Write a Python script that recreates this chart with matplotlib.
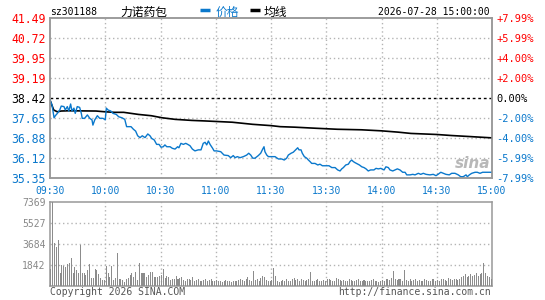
import numpy as np
import matplotlib.pyplot as plt
from matplotlib.lines import Line2D

plt.rcParams['font.family'] = ['DejaVu Sans Mono', 'Noto Sans CJK SC']

# 基本情報
code = "sz301188"
name = "力诺药包"
stamp = "2026-07-28 15:00:00"
prev_close = 38.42

price_ticks = [35.35, 36.12, 36.88, 37.65, 38.42, 39.19, 39.95, 40.72, 41.49]
pct_labels = ["-7.99%", "-5.99%", "-4.00%", "-2.00%", "0.00%",
              "+2.00%", "+4.00%", "+5.99%", "+7.99%"]
time_ticks = [0, 30, 60, 90, 120, 150, 180, 210, 240]
time_labels = ["09:30", "10:00", "10:30", "11:00", "11:30",
               "13:30", "14:00", "14:30", "15:00"]
vol_ticks = [1842, 3684, 5527, 7369]

# 分時価格 (分, 価格)
price_min = [0, 1.1, 2.2, 2.9, 4.0, 5.3, 6.1, 7.6, 8.3, 9.4, 10.2, 11.2, 11.9, 13.0, 13.7,
             14.8, 16.1, 17.0, 17.5, 18.8, 20.3, 21.6, 22.8, 23.3, 24.3, 25.7, 27.0, 28.8,
             30.0, 30.6, 31.5, 33.0, 34.2, 36.0, 37.3, 39.1, 40.6, 41.6, 44.0, 45.3, 46.5,
             47.6, 48.9, 50.1, 51.6, 53.1, 54.3, 55.2, 56.6, 57.9, 59.2, 60.3, 61.5, 62.4,
             63.4, 65.2, 66.4, 67.9, 69.3, 70.0, 71.1, 72.4, 73.7, 74.8, 76.0, 77.3, 78.7,
             80.5, 82.0, 83.2, 84.2, 85.1, 86.0, 86.9, 88.3, 89.1, 90.5, 92.7, 94.5, 96.8,
             98.1, 99.5, 100.5, 101.7, 103.2, 105.0, 106.8, 107.9, 109.0, 110.1, 111.3,
             113.1, 114.4, 115.5, 116.2, 116.7, 117.7, 118.6, 120.4, 122.2, 124.0, 125.8,
             127.2, 128.5, 129.4, 130.9, 132.1, 133.4, 134.5, 135.2, 136.3, 137.0, 138.1,
             139.4, 140.3, 141.2, 142.1, 143.9, 145.4, 146.6, 147.9, 151.5, 153.0, 154.8,
             156.2, 157.5, 158.4, 159.3, 160.6, 162.0, 162.9, 163.8, 164.7, 165.6, 168.0,
             169.3, 170.5, 171.6, 172.8, 174.1, 175.9, 177.0, 178.3, 179.6, 181.4, 182.4,
             183.7, 184.6, 186.1, 187.3, 188.6, 190.0, 191.5, 192.8, 193.7, 195.5, 197.0,
             198.2, 200.0, 201.3, 202.7, 204.2, 206.3, 208.1, 209.6, 210.7, 212.2, 213.6,
             215.0, 216.8, 218.1, 219.9, 221.7, 223.0, 224.4, 225.9, 226.6, 227.7, 229.0,
             230.8, 232.0, 233.5, 234.9, 237.1, 240]
price = [38.34, 38.15, 37.66, 37.74, 37.83, 37.96, 38.11, 38.09, 37.96, 38.09, 37.92, 38.19,
         37.92, 38.03, 37.83, 38.09, 38.06, 37.83, 37.64, 37.64, 37.77, 37.64, 37.58, 37.38,
         37.58, 37.74, 37.64, 37.64, 37.58, 38.03, 37.96, 37.92, 37.83, 37.79, 37.70, 37.66,
         37.60, 37.32, 37.32, 37.22, 37.15, 36.97, 36.90, 36.97, 36.90, 37.04, 36.97, 36.87,
         36.81, 36.64, 36.64, 36.53, 36.55, 36.62, 36.55, 36.55, 36.49, 36.46, 36.55, 36.51,
         36.68, 36.64, 36.68, 36.64, 36.59, 36.46, 36.39, 36.43, 36.43, 36.68, 36.72, 36.62,
         36.77, 36.64, 36.49, 36.39, 36.39, 36.36, 36.23, 36.21, 36.13, 36.21, 36.13, 36.17,
         36.13, 36.17, 36.23, 36.30, 36.23, 36.11, 36.11, 36.21, 36.30, 36.46, 36.55, 36.36,
         36.23, 36.17, 36.17, 36.17, 36.08, 36.08, 36.04, 36.11, 36.23, 36.30, 36.34, 36.43,
         36.51, 36.43, 36.43, 36.30, 36.17, 36.11, 36.04, 35.98, 35.91, 35.91, 35.85, 35.88,
         35.82, 35.82, 35.75, 35.75, 35.66, 35.62, 35.70, 35.75, 35.85, 35.88, 35.98, 36.04,
         35.98, 35.94, 35.85, 35.78, 35.75, 35.70, 35.62, 35.66, 35.66, 35.72, 35.70, 35.72,
         35.66, 35.78, 35.75, 35.66, 35.62, 35.66, 35.70, 35.66, 35.57, 35.57, 35.47, 35.47,
         35.49, 35.47, 35.53, 35.49, 35.53, 35.49, 35.47, 35.49, 35.44, 35.49, 35.57, 35.53,
         35.49, 35.47, 35.53, 35.53, 35.47, 35.40, 35.40, 35.47, 35.40, 35.47, 35.53, 35.57,
         35.57, 35.53, 35.57, 35.57, 35.57]

# 均価線
avg_min = [0, 2, 4, 6, 10, 25, 30, 35, 40, 48, 55, 61, 68, 77, 84, 99, 110, 120, 125,
           133, 144, 156, 169, 180, 189, 196, 210, 218, 228, 240]
avg = [38.34, 37.96, 37.89, 37.92, 37.93, 37.92, 37.89, 37.87, 37.87, 37.79, 37.74, 37.66,
       37.60, 37.56, 37.54, 37.49, 37.41, 37.36, 37.32, 37.30, 37.26, 37.22, 37.20, 37.16,
       37.11, 37.06, 37.02, 36.98, 36.94, 36.89]

# 出来高 (1分ごと)
volume = [1490, 7369, 3800, 3390, 4035, 1110, 1840, 1750, 1690, 1930,
          1990, 2430, 1110, 1690, 1400, 1170, 3600, 1170, 1170, 965,
          1400, 1930, 670, 670, 1460, 1400, 1050, 670, 530, 530,
          1750, 1110, 820, 1750, 530, 670, 2920, 585, 585, 530,
          380, 585, 670, 965, 1170, 760, 1260, 530, 1990, 1170,
          1170, 1170, 760, 965, 1260, 1260, 820, 760, 760, 880,
          965, 1520, 700, 880, 760, 530, 600, 650, 880, 585,
          700, 760, 530, 470, 585, 650, 530, 760, 470, 530,
          585, 470, 410, 530, 650, 470, 530, 585, 410, 470,
          530, 410, 470, 350, 410, 530, 470, 410, 350, 470,
          410, 470, 530, 650, 530, 470, 585, 760, 530, 470,
          1340, 530, 585, 410, 700, 880, 760, 530, 470, 410,
          530, 1550, 880, 470, 350, 410, 530, 470, 585, 410,
          470, 650, 700, 530, 585, 470, 650, 530, 470, 530,
          585, 1260, 470, 410, 530, 585, 470, 410, 530, 470,
          585, 650, 530, 410, 470, 700, 585, 530, 470, 530,
          410, 470, 585, 530, 470, 410, 530, 650, 410, 470,
          530, 410, 470, 410, 530, 585, 470, 410, 350, 470,
          530, 470, 585, 650, 530, 700, 1340, 585, 530, 650,
          585, 470, 1400, 530, 470, 585, 410, 530, 650, 470,
          530, 410, 470, 585, 530, 410, 470, 650, 585, 470,
          530, 470, 585, 650, 530, 470, 700, 585, 530, 650,
          585, 530, 650, 760, 880, 1050, 760, 880, 1050, 880,
          965, 1110, 880, 1050, 1170, 2050, 1110, 880, 760, 650]

blue = '#0a78cc'
red = '#ff0000'
frame = '#999999'
gridc = '#b4b4b4'

fig = plt.figure(figsize=(5.45, 3.0), dpi=100)
ax = fig.add_axes([50/545, 122/300, 442/545, 160/300])
axv = fig.add_axes([50/545, 14/300, 442/545, 84/300])

# 価格チャート
ax.set_xlim(0, 240)
ax.set_ylim(price_ticks[0], price_ticks[-1])
for y in price_ticks[1:-1]:
    if y == prev_close:
        ax.axhline(y, color='black', lw=1, ls=(0, (2, 2)), zorder=1)
    else:
        ax.axhline(y, color=gridc, lw=1, ls=(0, (1, 2)), zorder=1)
for x in time_ticks[1:-1]:
    ax.axvline(x, color=gridc, lw=1, ls=(0, (1, 2)), zorder=1)

ax.plot(avg_min, avg, color='black', lw=1.2, zorder=3)
ax.plot(price_min, price, color=blue, lw=1.0, zorder=4)

ax.set_yticks(price_ticks)
ax.set_yticklabels([f"{v:.2f}" for v in price_ticks], fontsize=8.3)
for lab, v in zip(ax.get_yticklabels(), price_ticks):
    lab.set_color('black' if v == prev_close else (red if v > prev_close else blue))
ax.set_xticks(time_ticks)
ax.set_xticklabels(time_labels, fontsize=7, color=blue)
ax.tick_params(axis='both', length=0)
ax.tick_params(axis='y', pad=3)
ax.tick_params(axis='x', pad=6)

ax2 = ax.twinx()
ax2.set_ylim(price_ticks[0], price_ticks[-1])
ax2.set_yticks(price_ticks)
ax2.set_yticklabels(pct_labels, fontsize=7.5)
for lab, v in zip(ax2.get_yticklabels(), price_ticks):
    lab.set_color('black' if v == prev_close else (red if v > prev_close else blue))
ax2.tick_params(axis='y', length=0, pad=3)

for a in (ax, ax2, axv):
    for s in a.spines.values():
        s.set_color(frame)
        s.set_linewidth(1.1)

ax.text(0.955, 0.09, "sina", transform=ax.transAxes, ha='center', va='center',
        fontsize=11, fontweight='bold', style='italic', color='#b8b8b8',
        family='DejaVu Sans', zorder=2)

# 出来高
vol_x = np.arange(len(volume)) + 0.5
axv.bar(vol_x, volume, width=0.55, color='#8c8c8c', zorder=3)
axv.set_xlim(0, 240)
axv.set_ylim(0, vol_ticks[-1])
for y in vol_ticks[:-1]:
    axv.axhline(y, color=gridc, lw=1, ls=(0, (1, 2)), zorder=1)
for x in time_ticks[1:-1]:
    axv.axvline(x, color=gridc, lw=1, ls=(0, (1, 2)), zorder=1)
axv.set_yticks(vol_ticks)
axv.set_yticklabels([str(v) for v in vol_ticks], fontsize=7, color='#888888')
axv.set_xticks([])
axv.tick_params(axis='y', length=0, pad=3)

# ヘッダー
fig.text(50/545, 1 - 12/300, code, fontsize=7, va='center', ha='left', color='black')
fig.text(120/545, 1 - 12/300, name, fontsize=8.5, va='center', ha='left',
         family=['Noto Sans CJK SC', 'DejaVu Sans'])
fig.add_artist(Line2D([200/545, 210/545], [1 - 10/300, 1 - 10/300], lw=2.5, color=blue,
                      solid_capstyle='butt'))
fig.text(216/545, 1 - 12/300, "价格", fontsize=8.5, va='center', ha='left', color=blue,
         family=['Noto Sans CJK SC', 'DejaVu Sans'])
fig.add_artist(Line2D([250/545, 260/545], [1 - 10/300, 1 - 10/300], lw=2.5, color='black',
                      solid_capstyle='butt'))
fig.text(264/545, 1 - 12/300, "均线", fontsize=8.5, va='center', ha='left',
         family=['Noto Sans CJK SC', 'DejaVu Sans'])
fig.text(490/545, 1 - 12/300, stamp, fontsize=7, va='center', ha='right')

# フッター
fig.text(50/545, 1 - 292/300, "Copyright 2026 SINA.COM", fontsize=7, va='center',
         ha='left', color='#555555')
fig.text(491/545, 1 - 292/300, "http://finance.sina.com.cn", fontsize=7, va='center',
         ha='right', color='#555555')

fig.savefig("out.png", dpi=100)
